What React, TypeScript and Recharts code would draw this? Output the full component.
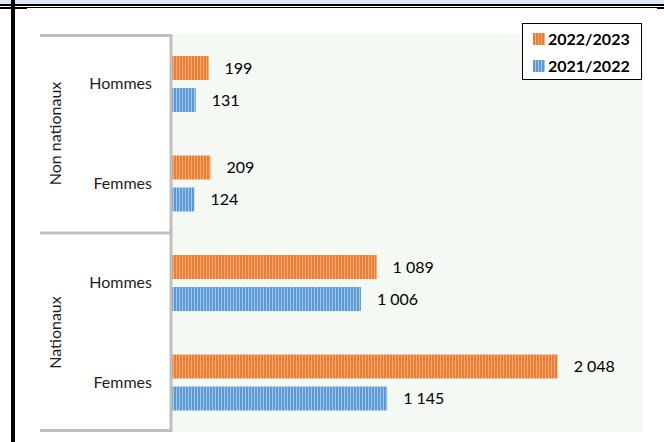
import React from 'react';
import { BarChart, Bar, XAxis, YAxis, LabelList } from 'recharts';

// ---- data ----
const categoryKeys = ['nn-h', 'nn-f', 'n-h', 'n-f'];
const categoryLabels = ['Hommes', 'Femmes', 'Hommes', 'Femmes'];
const groupLabels = ['Non nationaux', 'Nationaux'];
const seriesNames = ['2022/2023', '2021/2022'];
const values2022_2023 = [199, 209, 1089, 2048];
const values2021_2022 = [131, 124, 1006, 1145];
const xDomain = [0, 2500];

const data = categoryKeys.map((k, i) => ({
  key: k,
  label: categoryLabels[i],
  s1: values2022_2023[i],
  s2: values2021_2022[i],
}));

// ---- layout ----
const W = 664;
const H = 442;
const PLOT_LEFT = 171;
const PLOT_TOP = 34;
const PLOT_RIGHT = 643;
const PLOT_BOTTOM = 432;
const FONT = 'Lato, "Noto Sans", sans-serif';
const ORANGE = '#ED7D31';
const BLUE = '#5B9BD5';

const fmt = (v: any) => String(v).replace(/\B(?=(\d{3})+(?!\d))/g, ' ');

const LegendBox = () => (
  <div
    style={{
      position: 'absolute',
      left: 522,
      top: 23,
      width: 118,
      height: 55,
      border: '1.5px solid #000',
      background: '#fff',
      fontFamily: FONT,
      fontWeight: 700,
      fontSize: 16,
      color: '#000',
      boxSizing: 'content-box',
    }}
  >
    {seriesNames.map((n, i) => (
      <div key={n} style={{ display: 'flex', alignItems: 'center', height: 27, marginTop: i === 0 ? 1 : 0 }}>
        <svg width={12} height={12} style={{ marginLeft: 10, marginRight: 3 }}>
          <rect width={12} height={12} fill={i === 0 ? 'url(#patO)' : 'url(#patB)'} />
        </svg>
        <span>{n}</span>
      </div>
    ))}
  </div>
);

export default function App() {
  const plotH = PLOT_BOTTOM - PLOT_TOP;
  const band = plotH / categoryKeys.length;
  return (
    <div style={{ position: 'absolute', left: 0, top: 0, width: W, height: H, background: '#fff' }}>
      <svg width={0} height={0} style={{ position: 'absolute' }}>
        <defs>
          <pattern id="patO" patternUnits="userSpaceOnUse" width={3} height={10}>
            <rect width={3} height={10} fill={ORANGE} />
            <rect x={2} width={1} height={10} fill="#F5AE7E" />
          </pattern>
          <pattern id="patB" patternUnits="userSpaceOnUse" width={3} height={10}>
            <rect width={3} height={10} fill={BLUE} />
            <rect x={2} width={1} height={10} fill="#A4C8EA" />
          </pattern>
        </defs>
      </svg>
      {/* plot background */}
      <div
        style={{
          position: 'absolute',
          left: PLOT_LEFT,
          top: PLOT_TOP,
          width: PLOT_RIGHT - PLOT_LEFT,
          height: plotH,
          background: '#F5F9F3',
        }}
      />
      <div style={{ position: 'absolute', left: 0, top: 0 }}>
        <BarChart
          width={W}
          height={H}
          data={data}
          layout="vertical"
          margin={{ top: PLOT_TOP, bottom: H - PLOT_BOTTOM, left: 0, right: W - PLOT_RIGHT }}
          barSize={24}
          barGap={8}
        >
          <XAxis type="number" domain={xDomain} hide />
          <YAxis
            type="category"
            dataKey="key"
            width={PLOT_LEFT}
            tickSize={0}
            tickMargin={19}
            tickFormatter={(k: any) => categoryLabels[categoryKeys.indexOf(k)]}
            tick={{ fill: '#1e1e1e', fontSize: 16, fontFamily: FONT }}
            axisLine={{ stroke: '#BFBFBF', strokeWidth: 3 }}
          />
          <Bar dataKey="s1" name={seriesNames[0]} fill="url(#patO)" isAnimationActive={false}>
            <LabelList
              dataKey="s1"
              position="right"
              offset={16}
              formatter={fmt}
              style={{ fill: '#000', fontSize: 16, fontFamily: FONT }}
            />
          </Bar>
          <Bar dataKey="s2" name={seriesNames[1]} fill="url(#patB)" isAnimationActive={false}>
            <LabelList
              dataKey="s2"
              position="right"
              offset={16}
              formatter={fmt}
              style={{ fill: '#000', fontSize: 16, fontFamily: FONT }}
            />
          </Bar>
        </BarChart>
      </div>
      <LegendBox />
      {/* decorative overlay: multi-level category frame and page rules */}
      <svg
        width={W}
        height={H}
        style={{ position: 'absolute', left: 0, top: 0, pointerEvents: 'none' }}
      >
        <rect x={0} y={0} width={W} height={4} fill="#DCE6F2" />
        <rect x={0} y={4} width={W} height={2} fill="#000" />
        <rect x={0} y={7} width={W} height={1} fill="#000" />
        <rect x={0} y={7} width={27} height={2} fill="#000" />
        <rect x={657} y={7} width={7} height={2} fill="#000" />
        <rect x={11} y={0} width={4} height={H} fill="#000" />
        {[0, 2, 4].map((i) => (
          <rect
            key={i}
            x={40}
            y={PLOT_TOP + i * band - (i === 0 ? 0 : i === 4 ? 3 : 1.5)}
            width={PLOT_LEFT - 40}
            height={3}
            fill="#BFBFBF"
          />
        ))}
        {groupLabels.map((g, gi) => {
          const cy = PLOT_TOP + (gi * 2 + 1) * band;
          return (
            <text
              key={g}
              x={0}
              y={0}
              transform={`translate(61 ${cy}) rotate(-90)`}
              textAnchor="middle"
              fontFamily={FONT}
              fontSize={16}
              fill="#1e1e1e"
            >
              {g}
            </text>
          );
        })}
      </svg>
    </div>
  );
}
